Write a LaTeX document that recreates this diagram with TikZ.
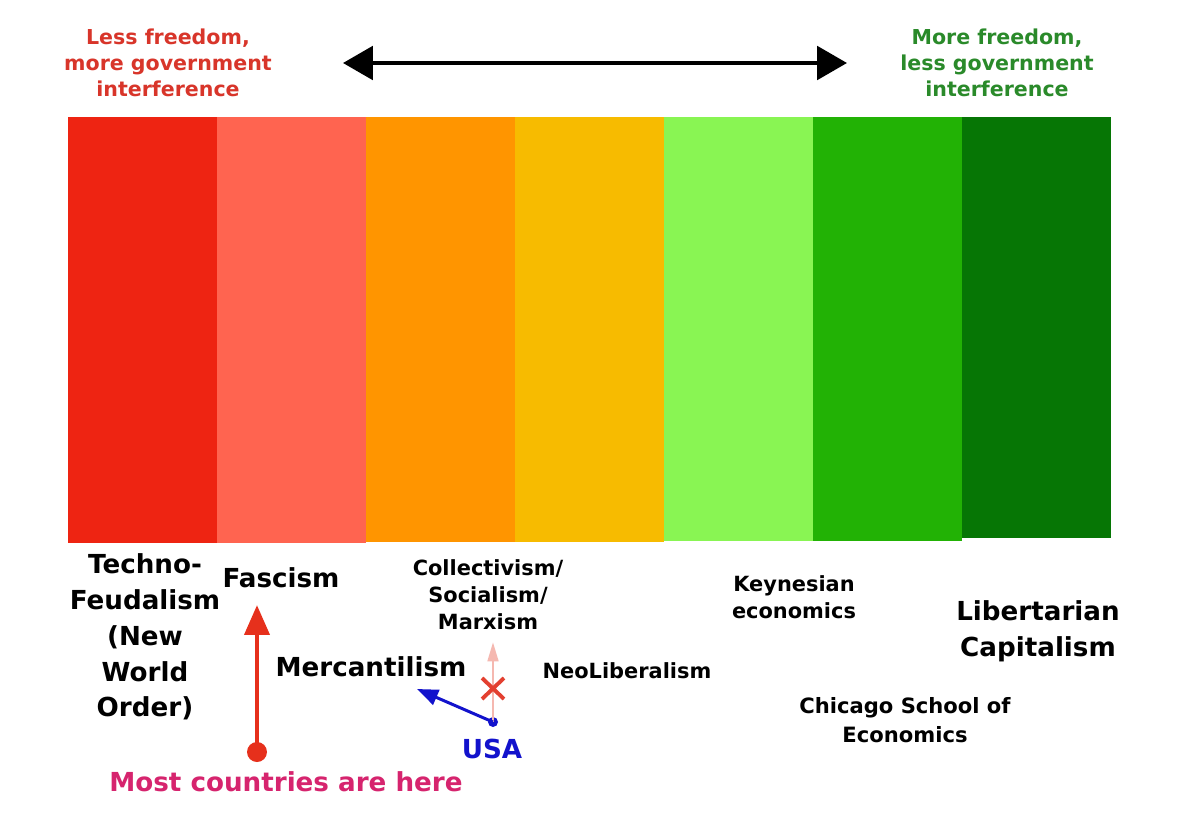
\documentclass[tikz,border=0pt]{standalone}
\usepackage{fontspec}
\setmainfont{DejaVu Sans}
\usetikzlibrary{arrows.meta, positioning}
\definecolor{barA}{HTML}{EE2412}
\definecolor{barB}{HTML}{FF6450}
\definecolor{barC}{HTML}{FF9500}
\definecolor{barD}{HTML}{F7BB00}
\definecolor{barE}{HTML}{89F553}
\definecolor{barF}{HTML}{22B205}
\definecolor{barG}{HTML}{067605}
\definecolor{lessRed}{HTML}{D8352A}
\definecolor{moreGreen}{HTML}{2A8A2A}
\definecolor{homeRed}{HTML}{E6301C}
\definecolor{usaBlue}{HTML}{1212CC}
\definecolor{fadePink}{HTML}{F5B8B0}
\definecolor{crossRed}{HTML}{E34030}
\definecolor{herePink}{HTML}{D6246E}
\tikzset{
  bigtag/.style   = {font=\bfseries\fontsize{14.9}{20.4}\selectfont, align=center, inner sep=0pt},
  smalltag/.style = {font=\bfseries\fontsize{11.9}{15.3}\selectfont, align=center, inner sep=0pt},
  headtag/.style  = {font=\bfseries\fontsize{11.7}{14.7}\selectfont, align=center, inner sep=0pt},
  dot/.style      = {circle, fill, inner sep=0pt},
  span/.style     = {{Triangle[length=17pt, width=19pt]}-{Triangle[length=17pt, width=19pt]},
                     line width=2.3pt},
  push/.style     = {-{Triangle[length=17pt, width=14pt]}, line width=2.8pt, homeRed},
  drift/.style    = {-{Triangle[length=12pt, width=9pt]}, line width=1.7pt, usaBlue}
}
\begin{document}
\begin{tikzpicture}[x=0.02cm, y=-0.02cm]
  \useasboundingbox (0,0) rectangle (1194,825);
  \fill[white] (0,0) rectangle (1194,825);

  \foreach \i/\c/\b in {1/barA/543, 2/barB/543, 3/barC/542, 4/barD/542,
                        5/barE/541, 6/barF/541, 7/barG/538}
    \fill[\c] ({68+(\i-1)*149},117) rectangle ({68+\i*149},\b);

  \node[headtag, text=lessRed]   (less) at (168,63)  {Less freedom,\\more government\\interference};
  \node[headtag, text=moreGreen] (more) at (997,63)  {More freedom,\\less government\\interference};
  \coordinate (spanL) at (343,63);
  \coordinate (spanR) at (847,63);
  \draw[span] (spanL) -- (spanR);

  \node[bigtag]   (techno)   at (145,637) {Techno-\\Feudalism\\(New\\World\\Order)};
  \node[bigtag]   (fascism)  at (281,578) {Fascism};
  \node[smalltag] (collect)  at (488,595) {Collectivism/\\Socialism/\\Marxism};
  \node[bigtag]   (mercant)  at (371,667) {Mercantilism};
  \node[smalltag] (neolib)   at (627,671) {NeoLiberalism};
  \node[smalltag] (keynes)   at (794,597) {Keynesian\\economics};
  \node[bigtag]   (libcap)   at (1038,631) {Libertarian\\Capitalism};
  \node[smalltag, font=\bfseries\fontsize{12}{16.4}\selectfont]
                  (chicago)  at (905,720) {Chicago School of\\Economics};

  \node[dot, fill=homeRed, minimum size=0.4cm] (home) at (257,752) {};
  \coordinate (homeTip) at (257,605);
  \draw[push] (home.center) -- (homeTip);
  \node[bigtag, text=herePink] (here) at (286,782) {Most countries are here};

  \node[dot, fill=usaBlue, minimum size=0.2cm] (usaDot) at (493,722) {};
  \coordinate (socTip) at (493,642);
  \coordinate (mercTip) at (417,689);
  \draw[-{Triangle[length=11pt, width=6pt]}, line width=1.7pt, fadePink] (usaDot.center) -- (socTip);
  \draw[crossRed, line width=2.2pt] (482,678) -- (504,699) (482,699) -- (504,678);
  \draw[drift] (usaDot.center) -- (mercTip);
  \node[bigtag, text=usaBlue] (usa) at (492,749) {USA};
\end{tikzpicture}
\end{document}
